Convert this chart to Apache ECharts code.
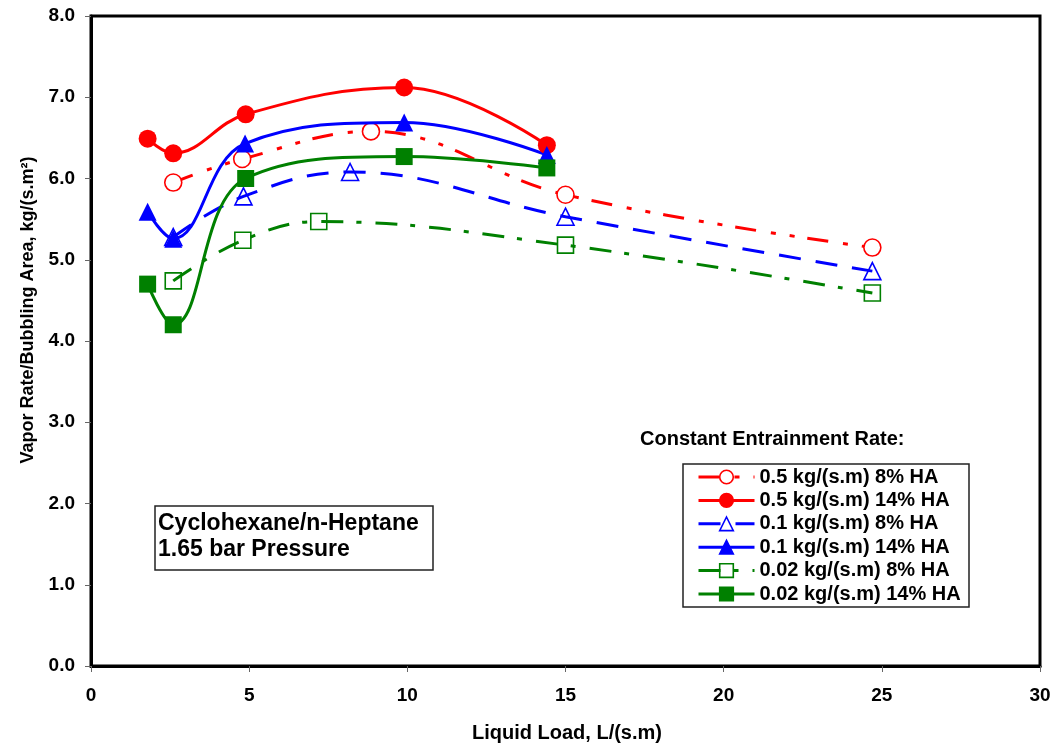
<!DOCTYPE html>
<html>
<head>
<meta charset="utf-8">
<script src="https://cdn.jsdelivr.net/npm/echarts@6/dist/echarts.min.js"></script>
<style>html,body{margin:0;padding:0;background:#fff}#c{width:1062px;height:750px}</style>
</head>
<body>
<div id="c"></div>
<script>
const xTicks = [0, 5, 10, 15, 20, 25, 30];
const yTicks = [0, 1, 2, 3, 4, 5, 6, 7, 8];
const seriesNames = [
  '0.5 kg/(s.m) 8% HA', '0.5 kg/(s.m) 14% HA',
  '0.1 kg/(s.m) 8% HA', '0.1 kg/(s.m) 14% HA',
  '0.02 kg/(s.m) 8% HA', '0.02 kg/(s.m) 14% HA'
];
const xRed8 = [2.6, 4.78, 8.85, 15.0, 24.7];
const yRed8 = [5.95, 6.24, 6.58, 5.80, 5.15];
const xRed14 = [1.79, 2.6, 4.89, 9.9, 14.41];
const yRed14 = [6.49, 6.31, 6.79, 7.12, 6.41];
const xBlue8 = [2.6, 4.82, 8.19, 15.0, 24.7];
const yBlue8 = [5.28, 5.78, 6.08, 5.53, 4.86];
const xBlue14 = [1.79, 2.6, 4.87, 9.9, 14.41];
const yBlue14 = [5.59, 5.26, 6.43, 6.69, 6.29];
const xGreen8 = [2.6, 4.8, 7.2, 15.0, 24.7];
const yGreen8 = [4.74, 5.24, 5.47, 5.18, 4.59];
const xGreen14 = [1.79, 2.6, 4.89, 9.9, 14.41];
const yGreen14 = [4.70, 4.20, 6.00, 6.27, 6.13];

const FONT = '"Liberation Sans", Arial, sans-serif';
const RED = '#FF0000', BLUE = '#0000FF', GREEN = '#008000';

function pts(xs, ys) { return xs.map((x, i) => [x, ys[i]]); }

function mk(name, xs, ys, color, symbol, open, dash, size) {
  return {
    name: name,
    type: 'line',
    data: pts(xs, ys),
    smooth: 0.4,
    symbol: symbol,
    symbolSize: size,
    showSymbol: true,
    clip: false,
    lineStyle: { color: color, width: 3, type: dash, cap: 'butt' },
    itemStyle: open
      ? { color: symbol === 'circle' ? '#fff' : 'rgba(255,255,255,0)', borderColor: color, borderWidth: 1.6 }
      : { color: color, borderColor: color, borderWidth: 0 },
    emphasis: { disabled: true },
    z: open ? 2 : 3
  };
}

const chart = echarts.init(document.getElementById('c'), null, { renderer: 'canvas' });
chart.setOption({
  animation: false,
  backgroundColor: '#fff',
  grid: { left: 91, right: 22, top: 16, bottom: 84, show: true, borderColor: '#000', borderWidth: 3, backgroundColor: 'transparent' },
  xAxis: {
    type: 'value', min: 0, max: 30, interval: 5,
    axisLine: { show: true, onZero: false, lineStyle: { color: '#000', width: 3 } },
    axisTick: { show: true, inside: false, length: 6, lineStyle: { color: '#666', width: 1 } },
    splitLine: { show: false },
    axisLabel: { margin: 20, color: '#000', fontFamily: FONT, fontWeight: 'bold', fontSize: 19 }
  },
  yAxis: {
    type: 'value', min: 0, max: 8, interval: 1,
    axisLine: { show: true, onZero: false, lineStyle: { color: '#000', width: 3 } },
    axisTick: { show: true, inside: false, length: 6, lineStyle: { color: '#666', width: 1 } },
    splitLine: { show: false },
    axisLabel: { margin: 16, color: '#000', fontFamily: FONT, fontWeight: 'bold', fontSize: 19,
      formatter: v => v.toFixed(1) }
  },
  legend: {
    show: true,
    orient: 'vertical',
    left: 697, top: 467,
    itemWidth: 56, itemHeight: 17, itemGap: 3.4,
    padding: 0,
    selectedMode: false,
    data: seriesNames,
    lineStyle: { width: 3 },
    itemStyle: { borderWidth: 1.6 },
    textStyle: { color: '#000', fontFamily: FONT, fontWeight: 'bold', fontSize: 20, lineHeight: 20 },
    z: 10
  },
  graphic: [
    { type: 'rect', shape: { x: 683, y: 464, width: 286, height: 143 },
      style: { fill: '#fff', stroke: '#222', lineWidth: 1.5 }, z: 5 },
    { type: 'text', left: 640, top: 429,
      style: { text: 'Constant Entrainment Rate:', fill: '#000', font: 'bold 20px ' + FONT }, z: 6 },
    { type: 'rect', shape: { x: 155, y: 506, width: 278, height: 64 },
      style: { fill: '#fff', stroke: '#222', lineWidth: 1.5 }, z: 5 },
    { type: 'text', left: 158, top: 511,
      style: { text: 'Cyclohexane/n-Heptane\n1.65 bar Pressure', fill: '#000', font: 'bold 23px ' + FONT, lineHeight: 26 }, z: 6 },
    { type: 'text', x: 567, y: 733,
      style: { text: 'Liquid Load, L/(s.m)', fill: '#000', font: 'bold 20px ' + FONT, align: 'center', verticalAlign: 'middle' }, z: 6 },
    { type: 'text', x: 28, y: 310, rotation: Math.PI / 2,
      style: { text: 'Vapor Rate/Bubbling Area, kg/(s.m²)', fill: '#000', font: 'bold 18px ' + FONT, align: 'center', verticalAlign: 'middle' }, z: 6 }
  ],
  series: [
    mk(seriesNames[0], xRed8, yRed8, RED, 'circle', true, [21, 15, 5, 14, 5, 13], 17),
    mk(seriesNames[1], xRed14, yRed14, RED, 'circle', false, 'solid', 18),
    mk(seriesNames[2], xBlue8, yBlue8, BLUE, 'triangle', true, [22, 15], 17),
    mk(seriesNames[3], xBlue14, yBlue14, BLUE, 'triangle', false, 'solid', 18),
    mk(seriesNames[4], xGreen8, yGreen8, GREEN, 'rect', true, [22, 13, 5, 14], 16),
    mk(seriesNames[5], xGreen14, yGreen14, GREEN, 'rect', false, 'solid', 17)
  ]
});
</script>
</body>
</html>
